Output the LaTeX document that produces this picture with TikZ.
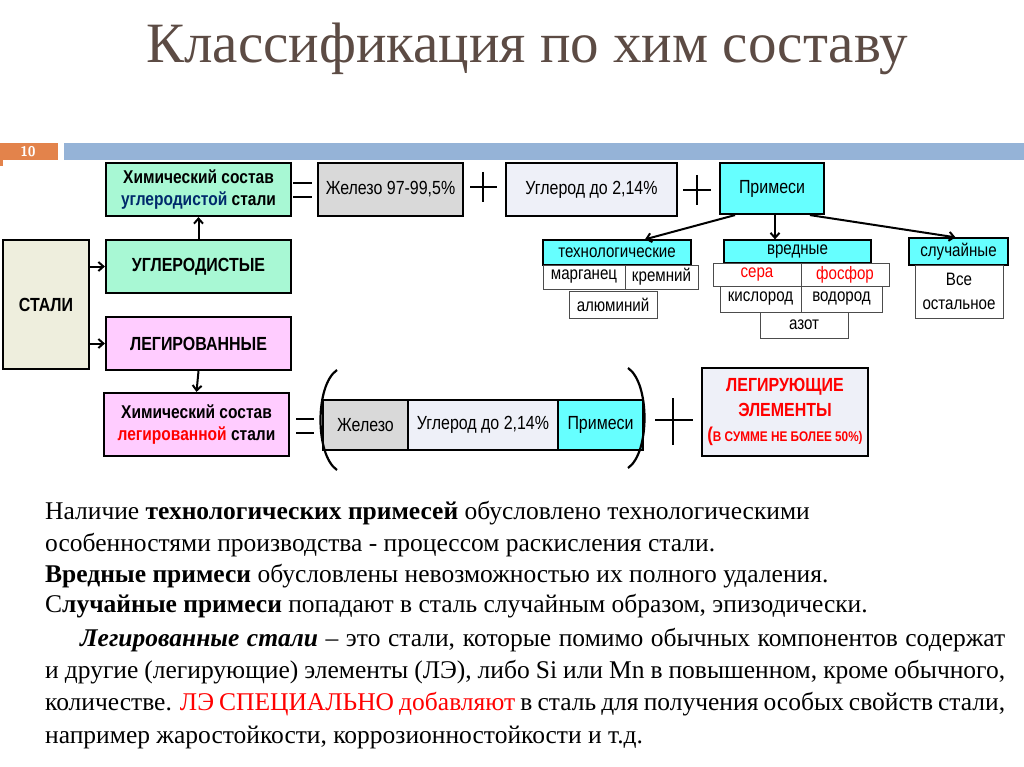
\documentclass[tikz,border=0pt]{standalone}
\usepackage{fontspec}
\setmainfont{Liberation Serif}
\newfontfamily\nar[FakeStretch=0.84]{Liberation Sans}
\usetikzlibrary{arrows.meta}
\definecolor{ttl}{HTML}{5C4B44}
\definecolor{grn}{HTML}{A8F8D4}
\definecolor{pnk}{HTML}{FFCCFF}
\definecolor{cyn}{HTML}{66FFFF}
\definecolor{gry}{HTML}{D9D9D9}
\definecolor{lgt}{HTML}{EEF0F8}
\definecolor{bar}{HTML}{95B3D7}
\definecolor{org}{HTML}{E3834B}
\definecolor{stl}{HTML}{EEEEDD}
\definecolor{rd}{HTML}{FF0000}
\definecolor{dblue}{HTML}{002A6C}
\begin{document}
\begin{tikzpicture}[x=1pt,y=-1pt,
  bigbox/.style={draw=black,line width=2.2pt,inner sep=0pt,align=center,font=\nar\fontsize{19}{22}\selectfont},
  bbold/.style={font=\nar\bfseries\fontsize{19}{21}\selectfont},
  chem/.style={font=\nar\bfseries\fontsize{18.5}{22}\selectfont},
  smallbox/.style={draw=black!70,line width=0.8pt,inner sep=0pt,align=center,font=\nar\fontsize{18}{21}\selectfont},
  arr/.style={line width=2pt,-{Straight Barb[length=5pt,width=9pt]}},
  sym/.style={line width=2.2pt}]
\useasboundingbox (0,0) rectangle (1024,767);
\node[font=\fontsize{57}{62}\selectfont,text=ttl] (title) at (527,49) {Классификация по хим составу};
% header bar
\fill[org] (0,143) rectangle (58,160);
\fill[org] (0,143) rectangle (3,166);
\node[font=\sffamily\bfseries\fontsize{14}{14}\selectfont,text=white] (num) at (28,152) {10};
\fill[bar] (64,143) rectangle (1024,160);
% boxes
\node[bigbox,chem,fill=grn,minimum width=185,minimum height=53] (chem1) at (198.5,189.5) {Химический состав\\\textcolor{dblue}{углеродистой} стали};
\node[bigbox,fill=gry,minimum width=145,minimum height=53] (fe1) at (390.5,189.5) {Железо 97-99,5\%};
\node[bigbox,fill=lgt,minimum width=171,minimum height=53] (c1) at (591.5,189.5) {Углерод до 2,14\%};
\node[bigbox,fill=cyn,minimum width=104,minimum height=51] (pr1) at (772,188.5) {Примеси};
\node[bigbox,bbold,fill=grn,minimum width=185,minimum height=53] (ugl) at (198.5,266.5) {УГЛЕРОДИСТЫЕ};
\node[bigbox,bbold,fill=stl,minimum width=86,minimum height=129] (stali) at (46,304.5) {СТАЛИ};
\node[bigbox,bbold,fill=pnk,minimum width=185,minimum height=53] (leg) at (198.5,343.5) {ЛЕГИРОВАННЫЕ};
\node[bigbox,chem,fill=pnk,minimum width=185,minimum height=63] (chem2) at (196.5,424.5) {Химический состав\\\textcolor{rd}{легированной} стали};
\node[bigbox,fill=gry,minimum width=85,minimum height=50] (fe2) at (365.5,425) {Железо};
\node[bigbox,fill=lgt,minimum width=150,minimum height=50] (c2) at (483,425) {Углерод до 2,14\%};
\node[bigbox,fill=cyn,minimum width=85,minimum height=50] (pr2) at (600.5,425) {Примеси};
\node[bigbox,fill=lgt,minimum width=166,minimum height=88,text=rd,font=\nar\bfseries\fontsize{19}{25}\selectfont] (le) at (785,412) {ЛЕГИРУЮЩИЕ\\ЭЛЕМЕНТЫ\\{\fontsize{20}{22}\selectfont(}{\fontsize{14}{22}\selectfont В СУММЕ НЕ БОЛЕЕ 50\%)}};
% symbols
\draw[sym] (293,183) -- (312,183) (293,197) -- (312,197);
\draw[sym] (296,419) -- (314,419) (296,433) -- (314,433);
\draw[sym] (470,187) -- (497,187) (483,172) -- (483,202);
\draw[sym] (683,190) -- (711,190) (697,175) -- (697,205);
\draw[sym] (655,420) -- (693,420) (673,398) -- (673,445);
\draw[sym] (337,370) .. controls (315,385) and (315,455) .. (337,470);
\draw[sym] (628,368) .. controls (650,383) and (650,453) .. (628,468);
% impurity tables
\node[smallbox,fill=cyn,draw=black,line width=1.3pt,minimum width=148,minimum height=25] (tech) at (617,252.5) {технологические};
\node[smallbox,fill=white,minimum width=82,minimum height=24] (mn) at (584,277) {марганец};
\node[smallbox,fill=white,minimum width=73,minimum height=24] (si) at (661.5,277) {кремний};
\node[smallbox,fill=white,minimum width=88,minimum height=27] (al) at (613,304.5) {алюминий};
\node[smallbox,fill=cyn,draw=black,line width=1.3pt,minimum width=147,minimum height=23] (vred) at (797.5,251.5) {вредные};
\node[smallbox,fill=white,text=rd,minimum width=88,minimum height=23] (s) at (757,274.5) {сера};
\node[smallbox,fill=white,text=rd,minimum width=88,minimum height=23] (p) at (845,274.5) {фосфор};
\node[smallbox,fill=white,minimum width=81,minimum height=26] (o) at (760.5,299) {кислород};
\node[smallbox,fill=white,minimum width=81,minimum height=26] (h) at (841.5,299) {водород};
\node[smallbox,fill=white,minimum width=88,minimum height=26] (n) at (804,325) {азот};
\node[smallbox,fill=cyn,draw=black,line width=1.3pt,minimum width=99,minimum height=27] (sl) at (958.5,251.5) {случайные};
\node[smallbox,fill=white,minimum width=88,minimum height=53,font=\nar\fontsize{18}{24}\selectfont] (all) at (959,291.5) {Все\\остальное};
% arrows
\draw[arr] (stali.east |- ugl) -- (ugl.west);
\draw[arr] (stali.east |- leg) -- (leg.west);
\draw[arr] (ugl.north) -- (chem1.south);
\draw[arr] (leg.south) -- (chem2.north);
\draw[arr] ([xshift=-37pt]pr1.south) -- ([xshift=28pt]tech.north);
\draw[arr] ([xshift=3pt]pr1.south) -- ([xshift=3pt]pr1.south |- vred.north);
\draw[arr] ([xshift=38pt]pr1.south) -- ([xshift=-3pt]sl.north);
% text
\begin{scope}[every node/.style={anchor=base west,inner sep=0pt,font=\fontsize{25.5}{28}\selectfont}]
\node (t1) at (45,519) {Наличие \textbf{технологических примесей} обусловлено технологическими};
\node (t2) at (45,551) {особенностями производства - процессом раскисления стали.};
\node (t3) at (45,582) {\textbf{Вредные примеси} обусловлены невозможностью их полного удаления.};
\node (t4) at (45,612) {С\textbf{лучайные примеси} попадают в сталь случайным образом, эпизодически.};
\node (t5) at (80,646) {\makebox[925pt][s]{\textbf{\textit{Легированные стали}} – это стали, которые помимо обычных компонентов содержат}};
\node (t6) at (45,678) {\makebox[960pt][s]{и другие (легирующие) элементы (ЛЭ), либо Si или Mn в повышенном, кроме обычного,}};
\node (t7) at (45,710) {\makebox[960pt][s]{количестве. {\color{rd}ЛЭ СПЕЦИАЛЬНО добавляют} в сталь для получения особых свойств стали,}};
\node (t8) at (45,743) {например жаростойкости, коррозионностойкости и т.д.};
\end{scope}
\end{tikzpicture}
\end{document}
